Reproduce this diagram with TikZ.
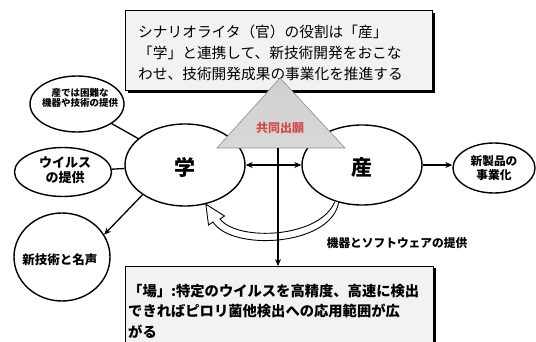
\documentclass[tikz,border=0pt]{standalone}
\usepackage{fontspec}
\newfontfamily\jp{Noto Sans CJK JP}
\usetikzlibrary{shapes.geometric,arrows.meta,calc}
\definecolor{boxfill}{HTML}{F2F2F2}
\definecolor{trifill}{HTML}{C4C4C4}
\definecolor{tridraw}{HTML}{8C8C8C}
\definecolor{redtxt}{HTML}{D24B4B}
\begin{document}
\begin{tikzpicture}[x=1pt,y=-1pt,
  every node/.style={font=\jp},
  oval/.style={ellipse, draw=black, line width=1.4pt, inner sep=0pt, fill=white, align=center},
  conn/.style={line width=1.3pt, draw=black},
  arr/.style={conn, -{Stealth[length=7pt,width=6pt]}},
  dblarr/.style={conn, {Stealth[length=7pt,width=6pt]}-{Stealth[length=7pt,width=6pt]}},
  textbox/.style={rectangle, draw=black, line width=0.8pt, fill=boxfill, inner sep=0pt},
  shadowbox/.style={rectangle, fill=black, draw=none, inner sep=0pt},
  small/.style={font=\jp\bfseries\fontsize{#1}{#1}\selectfont, align=center}
]
\useasboundingbox (0,0) rectangle (536,342);

% top box
\node[shadowbox, minimum width=307pt, minimum height=80pt] (topsh) at (281,53) {};
\node[textbox, minimum width=307pt, minimum height=80pt] (top) at (278.5,50.5) {};
\node[anchor=west, align=left, inner sep=0pt, font=\jp\fontsize{14.7}{21}\selectfont] (toptext) at (138,53)
  {シナリオライタ（官）の役割は「産」\\「学」と連携して、新技術開発をおこな\\わせ、技術開発成果の事業化を推進する};

% bottom box
\node[shadowbox, minimum width=308pt, minimum height=80pt, anchor=north west] (botsh) at (127.5,268) {};
\node[textbox, minimum width=308pt, minimum height=80pt, anchor=north west] (bot) at (125,266) {};
\node[anchor=west, align=left, inner sep=0pt, font=\jp\bfseries\fontsize{14.3}{20.5}\selectfont] (bottext) at (128,311)
  {「場」:特定のウイルスを高精度、高速に検出\\できればピロリ菌他検出への応用範囲が広\\がる};

% ellipses
\node[oval, minimum width=120pt, minimum height=82pt] (xue) at (185,165) {};
\node[font=\jp\bfseries\fontsize{21}{21}\selectfont] (xuet) at (185,167) {学};
\node[oval, minimum width=120pt, minimum height=80pt] (san) at (362,165) {};
\node[font=\jp\bfseries\fontsize{21}{21}\selectfont] (sant) at (362,167) {産};
\node[oval, minimum width=94pt, minimum height=56pt] (e1) at (77,104) {};
\node[small=9.5] (e1t) at (80,98) {産では困難な\\[1pt]機器や技術の提供};
\node[oval, minimum width=97pt, minimum height=49pt] (e2) at (63,172) {};
\node[small=13] (e2t) at (65,170) {ウイルス\\[2pt]の提供};
\node[oval, minimum width=96pt, minimum height=88pt] (e3) at (62,257) {};
\node[small=12.5] (e3t) at (60,260) {新技術と名声};
\node[oval, minimum width=82pt, minimum height=50pt] (e4) at (494,168) {};
\node[small=11.7] (e4t) at (494,168) {新製品の\\[3pt]事業化};

% connectors
\draw[conn] (e1) -- (xue);
\draw[conn] (e2) -- (xue);
\draw[arr] (xue.215) -- (e3.28);
\draw[arr] (san.east) -- (san.east -| e4.west);
\draw[dblarr] (xue.east) -- (san.west);

% curved block arrow from san to xue
\coordinate (cs1) at ($(san.235)+(-1.5,0)$);
\coordinate (cs2) at ($(san.235)+(2.5,0)$);
\coordinate (hd) at (xue.298);
\draw[line width=0.9pt, fill=white]
  (cs2) .. controls (332,246) and (232,252) .. (213,222)
  -- (208.5,225) -- (hd) -- (224.5,216) -- (220,219)
  .. controls (238,242) and (320,238) .. (cs1);
\node[small=11.7] (lbl) at (397,243) {機器とソフトウェアの提供};

% triangle
\coordinate (triT) at (280,78);
\coordinate (triL) at (217,148);
\coordinate (triR) at (345,148);
\coordinate (triB) at (278,148);
\draw[tridraw, line width=0.6pt, top color=trifill!80, bottom color=trifill!110!black] (triT) -- (triR) -- (triL) -- cycle;
\node[font=\jp\bfseries\fontsize{12}{12}\selectfont, text=redtxt] (kyodo) at (280,128) {共同出願};

% vertical arrow
\draw[arr] (triB) -- (triB |- bot.north);
\end{tikzpicture}
\end{document}
